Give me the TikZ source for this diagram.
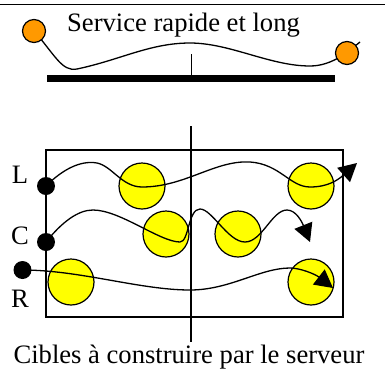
\documentclass[tikz,border=0pt]{standalone}
\usepackage{fontspec}
\setmainfont{Liberation Serif}
\usetikzlibrary{arrows.meta}
\definecolor{orangeball}{HTML}{FF9900}
\definecolor{cibleyellow}{HTML}{FFFF00}
\pgfdeclarelayer{back}
\pgfdeclarelayer{front}
\pgfsetlayers{back,main,front}
\begin{document}
\begin{tikzpicture}[x=1pt,y=-1pt,
  txt/.style={font=\fontsize{26.6}{30}\selectfont, inner sep=0pt, anchor=base},
  ball/.style={circle, draw=black, line width=1.2pt, fill=orangeball, minimum size=23pt, inner sep=0pt},
  cible/.style={circle, draw=black, line width=1.2pt, fill=cibleyellow, minimum size=46pt, inner sep=0pt},
  dot/.style={circle, fill=black, minimum size=18pt, inner sep=0pt},
  wire/.style={line width=1.3pt},
  arrowed/.style={wire, -{Triangle[length=18pt,width=19pt]}}]
\useasboundingbox (0,0) rectangle (385,370);

% ---------- upper part: fast and long service ----------
\draw[line width=1.8pt] (0,4.5) -- (385,4.5);
\node[txt] (titre) at (183.5,31.5) {Service rapide et long};
\begin{pgfonlayer}{front}
  \node[ball] (b1) at (34,31) {};
  \node[ball] (b2) at (347,53) {};
\end{pgfonlayer}
\coordinate (b2out) at (360,42);
\node[fill=black, minimum width=288pt, minimum height=7pt, inner sep=0pt] (bar) at (191,78.5) {};
\coordinate (tick) at (191,54);
\draw[line width=1pt] (bar.north) -- (tick);
\draw[wire] (b1.center) .. controls (55,55) and (62,72) .. (77,69)
  .. controls (120,60) and (150,43) .. (190,43)
  .. controls (230,43) and (270,66) .. (310,66)
  .. controls (333,66) and (350,50) .. (b2out);

% ---------- lower part: targets ----------
\begin{pgfonlayer}{back}
  \draw[line width=1.4pt] (46,150) rectangle (343,317);
  \coordinate (vtop) at (191,126);
  \coordinate (vbot) at (191,342);
  \draw[line width=1.2pt] (vtop) -- (vbot);
  \node[cible] (y1) at (142,186) {};
  \node[cible] (y2) at (166,234) {};
  \node[cible] (y3) at (71,282) {};
  \node[cible] (y4) at (311,186) {};
  \node[cible] (y5) at (238,234) {};
  \node[cible] (y6) at (311,282) {};
\end{pgfonlayer}

\begin{pgfonlayer}{front}
  \node[dot] (L) at (46,186) {};
  \node[dot] (C) at (46,242) {};
  \node[dot] (R) at (22.5,270) {};
\end{pgfonlayer}
\node[txt] (lL) at (20,183) {L};
\node[txt] (lC) at (20,244) {C};
\node[txt] (lR) at (20,307) {R};

\coordinate (tipL) at (357,163);
\coordinate (tipC) at (310,242);
\coordinate (tipR) at (333,288);

\draw[arrowed] (L.center) .. controls (62,170) and (80,160) .. (97,163)
  .. controls (112,166) and (122,187) .. (142,187)
  .. controls (185,187) and (215,160) .. (250,162)
  .. controls (280,164) and (290,187) .. (310,187)
  .. controls (328,187) and (338,180) .. (tipL);

\draw[arrowed] (C.center) .. controls (62,222) and (78,210) .. (93,210)
  .. controls (120,210) and (160,242) .. (180,242)
  .. controls (189,242) and (188,209) .. (200,209)
  .. controls (212,209) and (228,242) .. (245,242)
  .. controls (262,242) and (272,210) .. (287,210)
  .. controls (296,210) and (302,222) .. (tipC);

\draw[arrowed] (R.center) .. controls (80,270) and (140,290) .. (190,290)
  .. controls (230,290) and (260,268) .. (290,268)
  .. controls (300,268) and (315,274) .. (tipR);

\node[txt] (legende) at (189,363) {Cibles à construire par le serveur};
\end{tikzpicture}
\end{document}
